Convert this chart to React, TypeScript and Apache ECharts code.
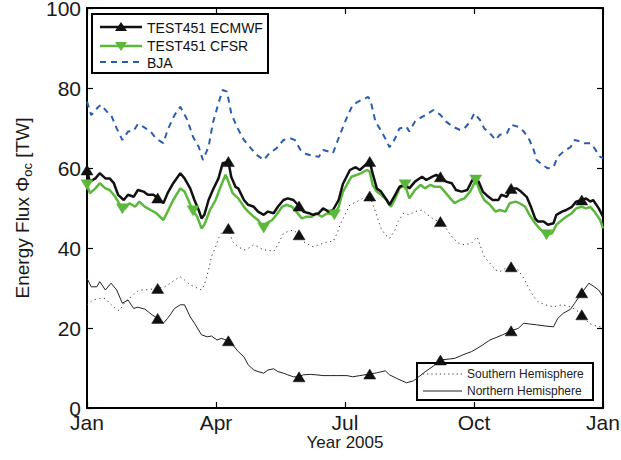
import React, { useEffect, useRef } from "react";
import * as echarts from "echarts";

// Day of year (0..365) and Energy flux [TW]
const bja: [number, number][] = [
  [0,76.6],[3,73.2],[8,75.3],[10,75.8],[15,73.7],[17,73.3],[21,69.9],[25,67.0],[29,69.1],[33,69.3],
  [36,71.0],[40,70.3],[45,69.1],[49,67.3],[54,66.2],[57,69.5],[62,73.3],[66,75.3],[71,72.0],[75,67.8],
  [79,65.3],[82,62.0],[86,65.3],[89,71.2],[93,76.2],[96,79.5],[99,79.1],[102,73.7],[106,70.3],[111,67.0],
  [116,64.9],[120,63.3],[125,62.0],[129,63.7],[134,64.9],[139,67.0],[144,67.4],[147,67.0],[151,64.5],[155,63.5],
  [160,63.0],[164,62.8],[167,64.5],[171,64.1],[174,63.7],[178,67.5],[184,72.8],[188,75.8],[194,77.0],[199,77.8],
  [201,76.2],[204,71.6],[207,69.9],[211,67.4],[214,65.2],[218,67.4],[221,69.9],[226,70.3],[228,69.1],[232,71.6],
  [237,72.8],[240,73.3],[245,74.5],[250,73.3],[254,71.6],[259,70.3],[264,69.5],[267,69.9],[271,71.6],[274,73.7],
  [278,72.0],[281,69.9],[286,68.3],[289,67.0],[292,68.3],[297,68.7],[300,70.8],[305,70.3],[309,69.1],[313,67.0],
  [316,64.5],[318,62.0],[322,60.8],[326,59.9],[330,60.3],[333,62.8],[337,64.1],[342,65.2],[345,67.0],[349,66.6],
  [352,66.2],[356,66.2],[359,64.9],[363,62.8],[365,62.5]
];

const ecmwf: [number, number][] = [
  [0,59.5],[2,56.6],[6,57.4],[9,58.7],[13,57.4],[16,57.4],[19,56.2],[22,53.3],[26,52.0],[29,53.3],
  [33,52.8],[36,54.5],[40,54.1],[43,53.3],[47,53.3],[50,52.5],[54,51.2],[57,53.7],[61,56.2],[66,58.7],
  [69,57.4],[73,54.9],[76,52.0],[79,49.5],[81,47.4],[83,48.3],[86,52.0],[89,54.5],[93,57.4],[96,61.2],
  [100,61.6],[102,57.8],[105,55.3],[107,54.9],[111,52.0],[114,50.8],[118,50.3],[121,49.1],[125,48.3],[128,49.1],
  [132,48.7],[135,50.3],[139,52.0],[142,52.4],[146,52.0],[150,50.5],[153,49.1],[157,48.7],[160,48.3],[164,48.7],
  [167,49.9],[171,49.1],[174,49.5],[178,52.0],[181,56.0],[186,59.5],[190,60.2],[193,59.5],[197,60.8],[200,61.6],
  [202,58.7],[205,54.9],[208,54.1],[212,52.0],[214,50.8],[218,53.3],[221,55.3],[225,55.8],[228,54.9],[232,56.6],
  [237,57.8],[240,57.0],[244,57.8],[247,58.3],[250,57.8],[254,56.6],[258,56.2],[261,54.5],[265,54.1],[269,54.5],
  [272,56.6],[274,57.8],[277,56.6],[280,54.1],[284,52.8],[287,52.0],[291,52.0],[293,53.3],[297,52.8],[300,54.9],
  [304,54.9],[307,54.1],[311,52.8],[314,50.3],[317,47.4],[319,46.6],[323,46.6],[326,45.8],[330,46.2],[332,48.3],
  [336,49.1],[339,49.5],[343,50.3],[346,51.6],[350,52.0],[353,52.4],[356,51.6],[358,52.0],[362,49.9],[365,47.8]
];

const cfsr: [number, number][] = [
  [0,55.8],[2,53.7],[6,54.9],[9,56.2],[13,54.9],[16,54.5],[20,52.8],[25,49.8],[27,49.9],[30,51.2],
  [34,50.3],[37,51.6],[41,50.3],[45,49.5],[49,48.7],[54,47.0],[57,49.1],[61,52.0],[66,54.9],[69,54.1],
  [75,49.3],[78,47.8],[81,44.9],[83,45.8],[87,49.5],[91,52.0],[94,54.9],[98,58.3],[100,56.6],[103,53.7],
  [107,52.4],[111,50.3],[114,49.1],[118,47.8],[121,47.0],[125,45.0],[127,46.2],[131,47.0],[134,48.3],[138,50.3],
  [141,50.8],[145,50.3],[148,49.1],[152,47.4],[155,47.8],[159,47.8],[162,48.7],[166,47.8],[170,48.7],[175,48.3],
  [178,50.3],[181,54.0],[185,56.6],[187,57.8],[191,58.3],[194,58.7],[198,59.5],[200,59.1],[202,55.8],[205,54.1],
  [208,53.3],[212,52.0],[215,50.3],[218,52.4],[221,54.9],[225,55.8],[228,52.4],[232,54.5],[236,55.8],[239,54.9],
  [243,55.8],[246,55.3],[250,55.3],[253,54.1],[257,52.4],[260,51.2],[264,52.0],[267,52.4],[271,54.1],[275,57.0],
  [278,54.1],[281,52.0],[285,50.8],[289,49.1],[292,49.5],[296,49.1],[299,51.2],[303,51.6],[306,51.2],[310,50.3],
  [313,48.3],[317,46.2],[320,44.9],[325,43.3],[329,43.7],[332,45.8],[336,47.0],[339,47.8],[343,48.7],[346,49.9],
  [350,50.3],[353,49.9],[356,50.3],[359,49.1],[363,47.0],[365,44.9]
];

const northern: [number, number][] = [
  [0,32.4],[3,30.3],[7,30.3],[9,31.6],[13,29.5],[17,31.2],[21,29.5],[25,26.2],[29,27.0],[33,24.9],
  [36,25.2],[41,24.7],[46,23.3],[50,22.4],[54,21.2],[57,22.4],[62,24.9],[66,25.8],[69,25.8],[73,22.8],
  [76,21.2],[81,18.3],[85,17.8],[88,18.0],[92,17.0],[95,17.4],[100,16.8],[103,15.8],[107,14.1],[111,12.8],
  [114,10.8],[118,9.5],[121,9.1],[125,8.7],[128,9.5],[132,9.8],[135,9.1],[139,8.7],[142,8.3],[146,7.8],
  [150,7.8],[153,8.3],[158,8.4],[162,8.3],[167,8.1],[172,8.1],[177,8.1],[184,8.1],[188,7.8],[193,8.1],
  [200,8.5],[205,8.8],[211,9.3],[214,8.3],[219,7.4],[226,6.3],[231,6.8],[239,9.0],[245,10.5],[250,12.0],
  [260,12.4],[266,13.3],[272,14.1],[276,14.9],[280,15.8],[285,17.0],[290,17.7],[294,18.3],[300,19.3],[305,19.9],
  [309,21.2],[313,21.0],[318,20.8],[324,20.5],[330,20.3],[333,22.4],[337,23.7],[342,24.7],[345,26.2],[350,28.8],
  [355,31.2],[358,30.5],[362,29.5],[365,27.8]
];

const southern: [number, number][] = [
  [0,25.8],[4,27.0],[9,27.4],[13,27.4],[16,26.2],[20,24.9],[23,24.3],[27,26.6],[30,27.4],[34,28.7],
  [37,29.5],[41,29.5],[50,29.9],[55,30.3],[59,31.2],[62,32.0],[66,32.8],[69,32.0],[73,30.8],[76,30.3],
  [81,29.5],[83,30.8],[86,34.5],[88,37.8],[91,40.3],[93,42.4],[95,43.7],[100,44.9],[103,41.6],[107,40.3],
  [111,39.5],[114,39.9],[118,40.8],[121,40.3],[125,39.5],[128,39.5],[132,39.1],[135,40.8],[139,43.7],[142,44.1],
  [146,44.5],[150,43.3],[153,41.6],[157,40.8],[160,40.3],[164,40.8],[167,41.2],[171,41.6],[174,41.6],[177,43.7],
  [179,45.8],[183,48.7],[186,50.8],[191,51.6],[195,52.4],[200,53.0],[204,49.1],[206,47.0],[208,44.9],[211,43.3],
  [214,42.4],[218,44.5],[220,46.6],[224,48.7],[228,48.3],[232,49.1],[237,49.5],[241,48.3],[246,47.0],[250,46.6],
  [254,44.9],[259,42.4],[263,41.2],[267,40.8],[272,41.2],[276,42.8],[278,40.8],[281,37.8],[285,36.2],[289,34.5],
  [292,34.1],[296,34.9],[300,35.3],[305,34.5],[309,32.4],[312,30.3],[316,27.8],[319,26.6],[324,25.8],[330,25.3],
  [336,25.8],[342,25.3],[346,24.5],[350,23.3],[355,21.2],[360,20.5],[365,20.2]
];

const ecmwfMarks: [number, number][] = [[0,59.5],[50,52.5],[100,61.6],[150,50.5],[200,61.6],[250,57.8],[300,54.9],[350,52.0]];
const cfsrMarks: [number, number][] = [[0,55.8],[25,49.8],[75,49.3],[125,45.0],[175,48.3],[225,55.8],[275,57.0],[325,43.3]];
const northMarks: [number, number][] = [[50,22.4],[100,16.8],[150,7.8],[200,8.5],[250,12.0],[300,19.3],[350,28.8]];
const southMarks: [number, number][] = [[50,29.9],[100,44.9],[150,43.3],[200,53.0],[250,46.6],[300,35.3],[350,23.3]];

const monthLabels = ["Jan", "Apr", "Jul", "Oct", "Jan"];
const legendTop = ["TEST451 ECMWF", "TEST451 CFSR", "BJA"];
const legendBottom = ["Southern Hemisphere", "Northern Hemisphere"];

const FONT = "'Liberation Sans', Arial, Helvetica, sans-serif";
const BLACK = "#111111";
const GREEN = "#5cb83c";
const BLUE = "#2a5db0";

export default function App() {
  const ref = useRef<HTMLDivElement>(null);
  useEffect(() => {
    if (!ref.current) return;
    const chart = echarts.init(ref.current, null, { renderer: "svg" });
    const axisLine = { show: true, onZero: false, lineStyle: { color: "#000", width: 2 } };
    const tick = { show: true, inside: true, length: 6, lineStyle: { color: "#000", width: 1.2 } };
    const tri = (
      name: string, data: [number, number][], color: string, rotate = 0
    ) => ({
      name, type: "scatter", data, symbol: "triangle", symbolSize: [12, 10], symbolRotate: rotate,
      itemStyle: { color, opacity: 1, borderColor: color, borderWidth: 0.5 }, z: 5,
    });
    chart.setOption({
      animation: false,
      grid: { left: 87, right: 18, top: 8, bottom: 52, outerBoundsMode: "none" },
      xAxis: [
        {
          type: "value", min: 0, max: 365, interval: 91.25, position: "bottom",
          axisLine, axisTick: tick, splitLine: { show: false },
          axisLabel: {
            color: "#1a1a1a", fontSize: 21, fontFamily: FONT, margin: 4,
            formatter: (v: number) => monthLabels[Math.round(v / 91.25)] ?? "",
          },
        },
        {
          type: "value", min: 0, max: 365, interval: 91.25, position: "top",
          axisLine, axisTick: tick, splitLine: { show: false }, axisLabel: { show: false },
        },
      ],
      yAxis: [
        {
          type: "value", min: 0, max: 100, interval: 20, position: "left",
          axisLine, axisTick: tick, splitLine: { show: false },
          axisLabel: { color: "#1a1a1a", fontSize: 21, fontFamily: FONT, margin: 6 },
        },
        {
          type: "value", min: 0, max: 100, interval: 20, position: "right",
          axisLine, axisTick: tick, splitLine: { show: false }, axisLabel: { show: false },
        },
      ],
      series: [
        { name: "Southern Hemisphere", type: "line", data: southern, showSymbol: false, symbol: "none",
          lineStyle: { color: "#333", width: 1, type: [1.2, 3.5] } },
        { name: "Northern Hemisphere", type: "line", data: northern, showSymbol: false, symbol: "none",
          lineStyle: { color: "#222", width: 1 } },
        { name: "BJA", type: "line", data: bja, showSymbol: false, symbol: "none",
          lineStyle: { color: BLUE, width: 2, type: [6, 5] } },
        { name: "TEST451 CFSR", type: "line", data: cfsr, showSymbol: false, symbol: "none",
          lineStyle: { color: GREEN, width: 2.5 } },
        { name: "TEST451 ECMWF", type: "line", data: ecmwf, showSymbol: false, symbol: "none",
          lineStyle: { color: BLACK, width: 2.5 } },
        tri("sm", southMarks, BLACK),
        tri("nm", northMarks, BLACK),
        tri("cm", cfsrMarks, GREEN, 180),
        tri("em", ecmwfMarks, BLACK),
      ],
      graphic: [
        // y axis title
        {
          type: "text", x: 22, y: 208, rotation: Math.PI / 2, z: 10,
          style: {
            text: "{a|Energy Flux Φ}{s|oc}{a| [TW]}",
            align: "center", verticalAlign: "middle",
            rich: {
              a: { fontSize: 19, fontFamily: FONT, fill: "#1a1a1a", lineHeight: 24 },
              s: { fontSize: 13, fontFamily: FONT, fill: "#1a1a1a", lineHeight: 24, verticalAlign: "bottom", padding: [9, 0, 0, 0] },
            },
          },
        },
        // x axis title
        {
          type: "text", x: 345, y: 442, z: 10,
          style: { text: "Year 2005", fontSize: 17, fontFamily: FONT, fill: "#1a1a1a", align: "center", verticalAlign: "middle" },
        },
        // top legend
        {
          type: "group", z: 20,
          children: [
            { type: "rect", shape: { x: 92, y: 14, width: 176, height: 59 }, style: { fill: "#fff", stroke: "#000", lineWidth: 2 } },
            { type: "line", shape: { x1: 100, y1: 27, x2: 142, y2: 27 }, style: { stroke: BLACK, lineWidth: 2.5 } },
            { type: "polygon", shape: { points: [[121, 22], [127, 31], [115, 31]] }, style: { fill: BLACK } },
            { type: "line", shape: { x1: 100, y1: 46, x2: 142, y2: 46 }, style: { stroke: GREEN, lineWidth: 2.5 } },
            { type: "polygon", shape: { points: [[115, 42], [127, 42], [121, 51]] }, style: { fill: GREEN } },
            { type: "line", shape: { x1: 100, y1: 62, x2: 142, y2: 62 }, style: { stroke: BLUE, lineWidth: 2, lineDash: [6, 5] } },
            { type: "text", x: 147, y: 28, style: { text: legendTop[0], fontSize: 14, fontFamily: FONT, fill: "#111", verticalAlign: "middle" } },
            { type: "text", x: 147, y: 46, style: { text: legendTop[1], fontSize: 14, fontFamily: FONT, fill: "#111", verticalAlign: "middle" } },
            { type: "text", x: 147, y: 63, style: { text: legendTop[2], fontSize: 14, fontFamily: FONT, fill: "#111", verticalAlign: "middle" } },
          ],
        },
        // bottom legend
        {
          type: "group", z: 20,
          children: [
            { type: "rect", shape: { x: 417, y: 363, width: 176, height: 37 }, style: { fill: "#fff", stroke: "#000", lineWidth: 2 } },
            { type: "line", shape: { x1: 423, y1: 374, x2: 462, y2: 374 }, style: { stroke: "#333", lineWidth: 1, lineDash: [1.2, 3] } },
            { type: "line", shape: { x1: 423, y1: 391, x2: 462, y2: 391 }, style: { stroke: "#222", lineWidth: 1 } },
            { type: "text", x: 467, y: 374, style: { text: legendBottom[0], fontSize: 12, fontFamily: FONT, fill: "#222", verticalAlign: "middle" } },
            { type: "text", x: 467, y: 391, style: { text: legendBottom[1], fontSize: 12, fontFamily: FONT, fill: "#222", verticalAlign: "middle" } },
          ],
        },
      ],
    });
    return () => chart.dispose();
  }, []);
  return (
    <div
      ref={ref}
      style={{ position: "fixed", left: 0, top: 0, width: 621, height: 460, background: "#fff" }}
    />
  );
}
